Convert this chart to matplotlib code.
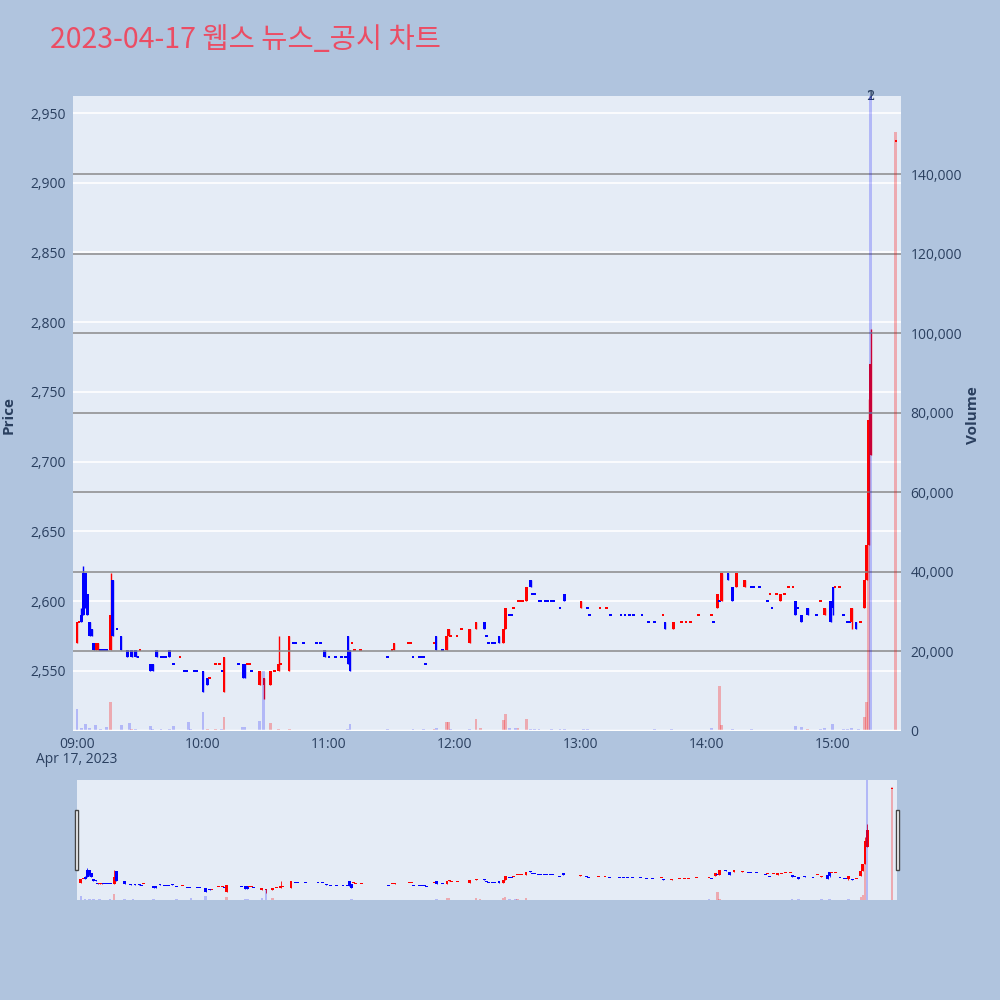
import numpy as np
import matplotlib
matplotlib.use("Agg")
import matplotlib.pyplot as plt
from matplotlib.patches import Rectangle
from matplotlib.ticker import FuncFormatter

# 1-minute candles, minutes counted from 09:00
minute = [0, 1, 2, 3, 4, 5, 6, 7, 8, 9, 10, 11, 12, 13, 14, 16, 17, 19, 21, 24,
          26, 28, 29, 30, 35, 36, 38, 40, 41, 42, 44, 46, 49, 51, 52, 56, 57, 60, 62, 63,
          66, 68, 69, 70, 77, 79, 80, 81, 82, 83, 87, 89, 92, 94, 96, 97, 101, 103, 104, 108,
          114, 116, 118, 120, 123, 126, 128, 129, 130, 131, 132, 135, 148, 150, 151, 158, 159, 160, 163, 164,
          165, 166, 170, 171, 174, 176, 177, 178, 181, 183, 187, 190, 194, 195, 196, 198, 199, 201, 203, 204,
          206, 207, 208, 210, 211, 212, 214, 216, 217, 218, 220, 221, 223, 224, 226, 227, 230, 232, 240, 243,
          244, 249, 252, 254, 259, 261, 263, 265, 269, 272, 275, 279, 280, 284, 288, 290, 292, 296, 302, 303,
          305, 306, 307, 310, 312, 314, 318, 321, 322, 325, 329, 330, 331, 333, 335, 337, 339, 341, 342, 343,
          345, 348, 352, 354, 356, 359, 360, 361, 363, 365, 367, 368, 369, 371, 373, 375, 376, 377, 378, 390]
opens = [2570, 2585, 2590, 2620, 2620, 2605, 2585, 2580, 2570, 2565, 2565, 2565, 2565, 2565, 2565, 2565, 2615, 2580, 2575, 2565,
         2565, 2565, 2560, 2565, 2555, 2555, 2565, 2560, 2560, 2560, 2565, 2555, 2560, 2550, 2550, 2550, 2550, 2550, 2545, 2545,
         2555, 2555, 2550, 2535, 2555, 2555, 2555, 2555, 2555, 2550, 2540, 2540, 2540, 2550, 2550, 2555, 2550, 2570, 2570, 2570,
         2570, 2570, 2565, 2560, 2560, 2560, 2560, 2575, 2565, 2570, 2565, 2565, 2560, 2565, 2565, 2570, 2570, 2560, 2560, 2560,
         2560, 2555, 2570, 2575, 2565, 2565, 2575, 2575, 2575, 2580, 2570, 2580, 2585, 2575, 2570, 2570, 2570, 2575, 2570, 2580,
         2590, 2590, 2595, 2600, 2600, 2600, 2600, 2615, 2605, 2605, 2600, 2600, 2600, 2600, 2600, 2600, 2595, 2605, 2595, 2595,
         2590, 2595, 2595, 2590, 2590, 2590, 2590, 2590, 2590, 2585, 2585, 2590, 2585, 2580, 2585, 2585, 2585, 2590, 2590, 2585,
         2595, 2600, 2600, 2620, 2610, 2610, 2610, 2610, 2610, 2610, 2600, 2605, 2595, 2605, 2600, 2605, 2610, 2610, 2600, 2595,
         2590, 2595, 2590, 2600, 2590, 2600, 2610, 2610, 2610, 2590, 2585, 2585, 2585, 2585, 2585, 2595, 2615, 2640, 2705, 2930]
highs = [2585, 2585, 2595, 2625, 2620, 2605, 2585, 2580, 2570, 2570, 2570, 2565, 2565, 2565, 2565, 2620, 2615, 2580, 2575, 2565,
         2565, 2565, 2560, 2565, 2555, 2555, 2565, 2560, 2560, 2560, 2565, 2555, 2560, 2550, 2550, 2550, 2550, 2550, 2545, 2545,
         2555, 2555, 2550, 2560, 2555, 2555, 2555, 2555, 2555, 2550, 2550, 2545, 2550, 2550, 2575, 2555, 2575, 2570, 2570, 2570,
         2570, 2570, 2565, 2560, 2560, 2560, 2560, 2575, 2565, 2570, 2565, 2565, 2560, 2565, 2570, 2570, 2570, 2560, 2560, 2560,
         2560, 2555, 2570, 2575, 2565, 2575, 2580, 2575, 2575, 2580, 2580, 2585, 2585, 2575, 2570, 2570, 2570, 2575, 2580, 2595,
         2590, 2590, 2595, 2600, 2600, 2600, 2610, 2615, 2605, 2605, 2600, 2600, 2600, 2600, 2600, 2600, 2595, 2605, 2600, 2595,
         2590, 2595, 2595, 2590, 2590, 2590, 2590, 2590, 2590, 2585, 2585, 2590, 2585, 2585, 2585, 2585, 2585, 2590, 2590, 2585,
         2605, 2600, 2620, 2620, 2610, 2620, 2615, 2610, 2610, 2610, 2600, 2605, 2595, 2605, 2605, 2605, 2610, 2610, 2600, 2595,
         2590, 2595, 2590, 2600, 2595, 2600, 2610, 2610, 2610, 2590, 2585, 2585, 2595, 2585, 2585, 2615, 2640, 2745, 2795, 2930]
lows = [2570, 2585, 2585, 2590, 2595, 2590, 2575, 2575, 2565, 2565, 2565, 2565, 2565, 2565, 2565, 2565, 2575, 2580, 2565, 2560,
        2560, 2560, 2560, 2565, 2550, 2550, 2560, 2560, 2560, 2560, 2560, 2555, 2560, 2550, 2550, 2550, 2550, 2535, 2540, 2545,
        2555, 2555, 2550, 2535, 2555, 2545, 2545, 2555, 2555, 2550, 2540, 2530, 2540, 2550, 2550, 2555, 2550, 2570, 2570, 2570,
        2570, 2570, 2560, 2560, 2560, 2560, 2560, 2555, 2550, 2570, 2565, 2565, 2560, 2565, 2565, 2570, 2570, 2560, 2560, 2560,
        2560, 2555, 2570, 2565, 2565, 2565, 2575, 2575, 2575, 2580, 2570, 2580, 2580, 2575, 2570, 2570, 2570, 2570, 2570, 2580,
        2590, 2590, 2595, 2600, 2600, 2600, 2600, 2610, 2605, 2605, 2600, 2600, 2600, 2600, 2600, 2600, 2595, 2600, 2595, 2595,
        2590, 2595, 2595, 2590, 2590, 2590, 2590, 2590, 2590, 2585, 2585, 2590, 2580, 2580, 2585, 2585, 2585, 2590, 2590, 2585,
        2595, 2600, 2600, 2615, 2600, 2610, 2610, 2610, 2610, 2610, 2600, 2605, 2595, 2605, 2600, 2605, 2610, 2610, 2590, 2595,
        2585, 2590, 2590, 2600, 2590, 2585, 2590, 2610, 2610, 2590, 2585, 2585, 2580, 2580, 2585, 2595, 2615, 2640, 2705, 2930]
closes = [2585, 2585, 2585, 2590, 2600, 2590, 2575, 2575, 2565, 2570, 2570, 2565, 2565, 2565, 2565, 2590, 2575, 2580, 2565, 2560,
          2560, 2560, 2560, 2565, 2550, 2550, 2560, 2560, 2560, 2560, 2560, 2555, 2560, 2550, 2550, 2550, 2550, 2535, 2540, 2545,
          2555, 2555, 2550, 2560, 2555, 2545, 2545, 2555, 2555, 2550, 2550, 2545, 2550, 2550, 2555, 2555, 2575, 2570, 2570, 2570,
          2570, 2570, 2560, 2560, 2560, 2560, 2560, 2555, 2550, 2570, 2565, 2565, 2560, 2565, 2570, 2570, 2570, 2560, 2560, 2560,
          2560, 2555, 2570, 2565, 2565, 2575, 2580, 2575, 2575, 2580, 2580, 2585, 2580, 2575, 2570, 2570, 2570, 2570, 2580, 2595,
          2590, 2590, 2595, 2600, 2600, 2600, 2610, 2610, 2605, 2605, 2600, 2600, 2600, 2600, 2600, 2600, 2595, 2600, 2600, 2595,
          2590, 2595, 2595, 2590, 2590, 2590, 2590, 2590, 2590, 2585, 2585, 2590, 2580, 2585, 2585, 2585, 2585, 2590, 2590, 2585,
          2605, 2600, 2620, 2615, 2600, 2620, 2615, 2610, 2610, 2610, 2600, 2605, 2595, 2605, 2605, 2605, 2610, 2610, 2590, 2595,
          2585, 2590, 2590, 2600, 2595, 2585, 2595, 2610, 2610, 2590, 2585, 2585, 2595, 2580, 2585, 2615, 2640, 2730, 2770, 2930]
# red = 상승, blue = 하락 (doji colours)
up = [1, 1, 0, 0, 0, 0, 0, 0, 0, 1, 1, 0, 0, 0, 0, 1, 0, 0, 0, 0,
      0, 0, 0, 1, 0, 0, 0, 0, 0, 0, 0, 0, 1, 0, 0, 0, 0, 0, 0, 1,
      1, 1, 0, 1, 0, 0, 0, 1, 1, 0, 1, 1, 1, 1, 1, 1, 1, 0, 0, 0,
      0, 0, 0, 0, 0, 0, 0, 0, 0, 1, 1, 1, 0, 1, 1, 1, 1, 0, 0, 0,
      0, 0, 1, 0, 0, 1, 1, 1, 1, 1, 1, 1, 0, 0, 0, 0, 0, 0, 1, 1,
      0, 0, 1, 1, 1, 1, 1, 0, 0, 0, 0, 0, 0, 0, 0, 0, 0, 0, 1, 0,
      0, 1, 1, 0, 0, 0, 0, 0, 0, 0, 0, 1, 0, 1, 1, 1, 1, 1, 1, 0,
      1, 0, 1, 0, 0, 1, 1, 0, 0, 0, 0, 1, 0, 1, 1, 1, 1, 1, 0, 0,
      0, 0, 0, 1, 1, 0, 0, 1, 1, 0, 0, 0, 1, 0, 1, 1, 1, 1, 1, 1]

# volume bars (shares), with their own colours
vol_min = [0, 2, 4, 6, 9, 11, 14, 16, 21, 25, 26, 28, 35, 36, 40, 44, 46, 53, 54, 60,
           62, 66, 69, 70, 79, 80, 87, 89, 92, 96, 101, 129, 130, 148, 160, 165, 170, 171, 176, 177,
           178, 187, 190, 192, 203, 204, 206, 209, 210, 214, 216, 218, 220, 226, 230, 232, 241, 243, 253, 265,
           275, 283, 302, 306, 307, 312, 321, 342, 345, 348, 354, 356, 360, 365, 367, 369, 372, 375, 376, 377,
           378, 390]
volume = [5600, 800, 1800, 700, 1500, 600, 900, 7400, 1500, 1900, 500, 600, 1200, 600, 400, 500, 1200, 2300, 400, 4900,
          600, 500, 500, 3500, 1000, 1000, 2500, 15000, 2000, 500, 500, 500, 1700, 400, 400, 500, 500, 800, 2200, 2300,
          500, 500, 3100, 800, 2800, 4200, 700, 800, 700, 3000, 600, 600, 500, 500, 600, 500, 500, 600, 300, 300,
          400, 400, 750, 11300, 1500, 600, 400, 1300, 1100, 500, 500, 700, 1700, 500, 600, 700, 500, 3400, 7200, 68000,
          185000, 150600]
vol_up = [0, 0, 0, 0, 0, 0, 0, 1, 0, 0, 1, 0, 0, 0, 0, 0, 0, 0, 0, 0,
          1, 1, 0, 1, 0, 0, 0, 0, 1, 1, 1, 0, 0, 0, 0, 0, 1, 0, 1, 1,
          0, 0, 1, 1, 1, 1, 0, 0, 1, 1, 0, 0, 0, 0, 0, 0, 0, 0, 1, 0,
          0, 0, 0, 1, 1, 0, 0, 0, 0, 1, 0, 0, 0, 0, 0, 0, 0, 1, 1, 1,
          0, 1]

hour_ticks = [0, 60, 120, 180, 240, 300, 360]
hour_labels = ["09:00", "10:00", "11:00", "12:00", "13:00", "14:00", "15:00"]
price_ticks = [2550, 2600, 2650, 2700, 2750, 2800, 2850, 2900, 2950]
vol_ticks = [0, 20000, 40000, 60000, 80000, 100000, 120000, 140000]
news_min = [378, 378]
news_text = ["1", "2"]

BG = "#B0C4DE"
PLOT_BG = "#E5ECF6"
TXT = "#2a3f5f"
RED = "#FF0000"
BLUE = "#0000FF"
XLIM = (-1.9, 392.4)
YLIM = (2506.8, 2962.2)
VLIM = (0, 159700)

plt.rcParams['font.family'] = ['Open Sans', 'Noto Sans CJK KR', 'DejaVu Sans']


def draw(ax, axv, lw_wick, w_body, min_h, w_vol):
    for i, m in enumerate(minute):
        c = RED if up[i] else BLUE
        ax.vlines(m, lows[i], highs[i], color=c, lw=lw_wick, zorder=3)
        lo = min(opens[i], closes[i])
        h = abs(closes[i] - opens[i])
        if h < min_h:
            lo -= (min_h - h) / 2
            h = min_h
        ax.bar(m, h, bottom=lo, width=w_body, color=c, lw=0, zorder=3)
    vc = [(1, 0, 0, 0.28) if u else (0, 0, 1, 0.22) for u in vol_up]
    axv.bar(vol_min, volume, width=w_vol, color=vc, lw=0, zorder=4)


fig = plt.figure(figsize=(10, 10), dpi=100)
fig.patch.set_facecolor(BG)

ax = fig.add_axes([0.073, 0.269, 0.828, 0.635])
ax.set_facecolor(PLOT_BG)
axv = ax.twinx()
draw(ax, axv, 1.0, 1.3, 1.3, 1.4)

ax.set_xlim(*XLIM)
ax.set_ylim(*YLIM)
axv.set_ylim(*VLIM)
ax.set_yticks(price_ticks)
ax.yaxis.set_major_formatter(FuncFormatter(lambda v, p: f"{int(v):,}"))
axv.set_yticks(vol_ticks)
axv.yaxis.set_major_formatter(FuncFormatter(lambda v, p: f"{int(v):,}"))
ax.set_xticks(hour_ticks)
ax.set_xticklabels(hour_labels)
ax.grid(axis='y', color='white', lw=1.2, zorder=0)
axv.grid(axis='y', color='#8a8a8a', lw=1.1, zorder=1)
ax.set_axisbelow(True)
axv.axhline(0, color='white', lw=2.5, zorder=5)
for a in (ax, axv):
    for s in a.spines.values():
        s.set_visible(False)
    a.tick_params(length=0, labelsize=10, labelcolor=TXT, pad=5)
axv.tick_params(pad=7)
ax.tick_params(axis='x', pad=4)

ax.text(0, -0.045, "Apr 17, 2023", transform=ax.get_xaxis_transform(),
        ha='center', va='center', fontsize=10, color=TXT)
for m, t in zip(news_min, news_text):
    ax.text(m, YLIM[1], t, ha='center', va='center', fontsize=9.5,
            color=TXT, family='DejaVu Serif', zorder=6)

fig.text(0.05, 0.96, "2023-04-17 웹스 뉴스_공시 차트", fontsize=20.5, color='#EB4D64',
         ha='left', va='center', family=['Noto Sans CJK KR', 'DejaVu Sans'])
fig.text(0.009, 0.585, "Price", rotation=90, ha='center', va='center',
         fontsize=11, fontweight='bold', color=TXT)
fig.text(0.973, 0.585, "Volume", rotation=90, ha='center', va='center',
         fontsize=11, fontweight='bold', color=TXT)

# range slider
axs = fig.add_axes([0.077, 0.1, 0.82, 0.12])
axs.set_facecolor(PLOT_BG)
axsv = axs.twinx()
draw(axs, axsv, 0.6, 1.4, 3.5, 1.2)
axs.set_xlim(*XLIM)
axs.set_ylim(2503, 2964)
axsv.set_ylim(*VLIM)
for a in (axs, axsv):
    a.set_xticks([])
    a.set_yticks([])
    for s in a.spines.values():
        s.set_visible(False)
for hx in (0.0745, 0.8955):
    fig.add_artist(Rectangle((hx, 0.13), 0.0035, 0.06, transform=fig.transFigure,
                             facecolor='white', edgecolor='#444444', lw=1, zorder=10))

fig.savefig("out.png", dpi=100, facecolor=BG)
